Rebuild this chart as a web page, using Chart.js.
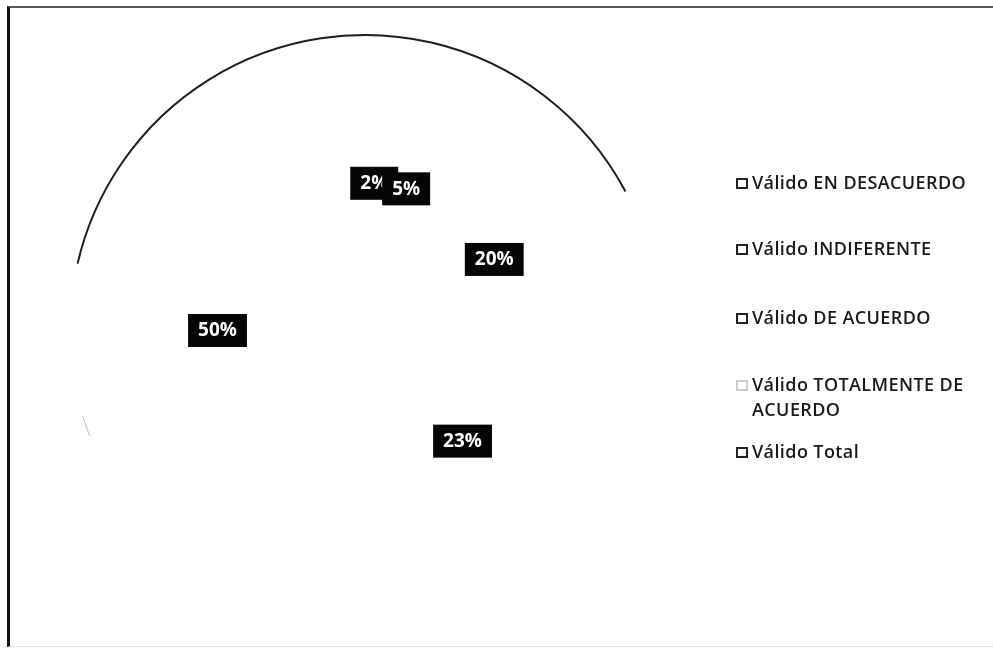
<!DOCTYPE html>
<html>
<head>
<meta charset="utf-8">
<script src="https://cdn.jsdelivr.net/npm/chart.js@4/dist/chart.umd.min.js"></script>
<style>
  body { margin: 0; background: #fff; }
  #wrap { position: relative; width: 993px; height: 649px; overflow: hidden; }
  #frame { position: absolute; left: 7px; top: 6px; width: 990px; height: 638px;
           border-left: 3px solid #111; border-top: 2px solid #555; border-bottom: 1px solid #e2e2e2; }
  canvas { position: absolute; left: 0; top: 0; }
  #legend { position: absolute; left: 736px; top: 0; font-family: "Open Sans", sans-serif;
            font-weight: 600; font-size: 18px; letter-spacing: 0.4px; color: #1a1a1a; }
  .item { position: absolute; left: 0; width: 245px; line-height: 25px; }
  .item .box { position: absolute; left: 0; top: 8px; width: 8px; height: 7px; border: 2px solid #222; background: #fff; }
  .item .txt { display: block; padding-left: 16px; }
</style>
</head>
<body>
<div id="wrap">
  <div id="frame"></div>
  <canvas id="chart" width="993" height="649"></canvas>
  <div id="legend"></div>
</div>
<script>
let categories = [
    "Válido EN DESACUERDO",
    "Válido INDIFERENTE",
    "Válido DE ACUERDO",
    "Válido TOTALMENTE DE ACUERDO",
    "Válido Total"
];
let values = [2, 5, 20, 23, 50];
let legendTops = [170, 236, 305, 372, 439];

// outline arc and the black percent boxes
let piePaint = {
    id: "piePaint",
    afterDatasetsDraw(chart) {
        let ctx = chart.ctx;
        let meta = chart.getDatasetMeta(0);
        let a0 = meta.data[0];
        let deg = Math.PI / 180;

        ctx.save();
        ctx.strokeStyle = "#1e1e1e";
        ctx.lineWidth = 2;
        ctx.beginPath();
        ctx.arc(a0.x, a0.y, a0.outerRadius, (-77 - 90) * deg, (62 - 90) * deg);
        ctx.stroke();
        ctx.strokeStyle = "#bbb";
        ctx.lineWidth = 1;
        ctx.beginPath();
        ctx.arc(a0.x, a0.y, a0.outerRadius, (249 - 90) * deg, (253 - 90) * deg);
        ctx.stroke();

        ctx.font = "bold 19px 'Open Sans', sans-serif";
        ctx.textAlign = "center";
        ctx.textBaseline = "middle";
        meta.data.forEach(function (arc, i) {
            let p = arc.getCenterPoint();
            let label = values[i] + "%";
            let w = ctx.measureText(label).width + 20;
            ctx.fillStyle = "#050505";
            ctx.fillRect(p.x - w / 2, p.y - 16, w, 33);
            ctx.fillStyle = "#fff";
            ctx.fillText(label, p.x, p.y + 1);
        });
        ctx.restore();
    }
};

new Chart(document.getElementById("chart").getContext("2d"), {
    type: "pie",
    data: {
        labels: categories,
        datasets: [{
            data: values,
            backgroundColor: "#fff",
            borderWidth: 0
        }]
    },
    options: {
        responsive: false,
        animation: false,
        layout: { padding: { left: 70, right: 333, top: 35, bottom: 24 } },
        plugins: { legend: { display: false }, tooltip: { enabled: false } }
    },
    plugins: [piePaint]
});

let legend = document.getElementById("legend");
categories.forEach(function (name, i) {
    let item = document.createElement("div");
    item.className = "item";
    item.style.top = legendTops[i] + "px";
    let box = document.createElement("span");
    box.className = "box";
    if (i === 3) { box.style.borderColor = "#ccc"; }
    let txt = document.createElement("span");
    txt.className = "txt";
    txt.textContent = name;
    item.appendChild(box);
    item.appendChild(txt);
    legend.appendChild(item);
});
</script>
</body>
</html>
